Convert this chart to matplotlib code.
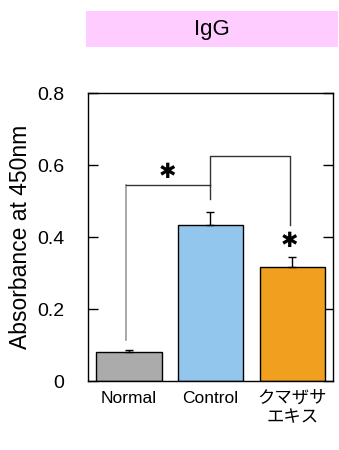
import matplotlib
matplotlib.use("Agg")
import matplotlib.pyplot as plt
from matplotlib.patches import Rectangle

categories = ["Normal", "Control", "クマザサ\nエキス"]
values = [0.080, 0.432, 0.316]
errors = [0.006, 0.038, 0.028]
colors = ["#ABABAB", "#93C6EC", "#F09F1E"]
yticks = [0, 0.2, 0.4, 0.6, 0.8]
ytick_labels = ["0", "0.2", "0.4", "0.6", "0.8"]

plt.rcParams['font.family'] = ['Liberation Sans', 'Noto Sans CJK JP', 'DejaVu Sans']

fig = plt.figure(figsize=(3.39, 4.5), dpi=100)
ax = fig.add_axes([88/339, 1-381/450, 245/339, 288/450])

x = list(range(len(categories)))
ax.bar(x, values, width=0.8, color=colors, edgecolor="black", linewidth=1, zorder=2)
ax.errorbar(x, values, yerr=[[0]*3, errors], fmt="none", ecolor="black",
            elinewidth=1, capsize=3, capthick=1, zorder=3)

ax.set_xlim(-0.5, 2.5)
ax.set_ylim(0, 0.8)
ax.set_yticks(yticks)
ax.set_yticklabels(ytick_labels, fontsize=14)
ax.set_xticks(x)
ax.set_xticklabels(categories, fontsize=12.5, linespacing=1.35)
ax.tick_params(axis='x', length=0, pad=7)
ax.tick_params(axis='y', direction='in', length=7, width=1, right=True, pad=17)
for s in ax.spines.values():
    s.set_linewidth(1)
ax.set_ylabel("Absorbance at 450nm", fontsize=16.5, labelpad=4)

# significance brackets
ax.plot([-0.04, -0.04], [0.114, 0.545], color="#999999", lw=1.2, zorder=1)
ax.plot([-0.04, 1.0], [0.545, 0.545], color="#333333", lw=1, zorder=1)
ax.plot([1.0, 1.0], [0.545, 0.505], color="#333333", lw=1, zorder=1)
ax.plot([1.0, 1.0, 1.97, 1.97], [0.545, 0.625, 0.625, 0.432], color="#333333", lw=1, zorder=1)
ax.text(0.47, 0.58, "✱", ha="center", va="center", fontsize=15,
        family="DejaVu Sans", fontweight="bold")
ax.text(1.97, 0.39, "✱", ha="center", va="center", fontsize=15,
        family="DejaVu Sans", fontweight="bold")

# title box
fig.patches.append(Rectangle((86/339, 1-47/450), 252/339, 36/450,
                             transform=fig.transFigure, facecolor="#FFCCFF",
                             edgecolor="none"))
fig.text(212/339, 1-30/450, "IgG", ha="center", va="center", fontsize=16)

fig.savefig("out.png", dpi=100)
